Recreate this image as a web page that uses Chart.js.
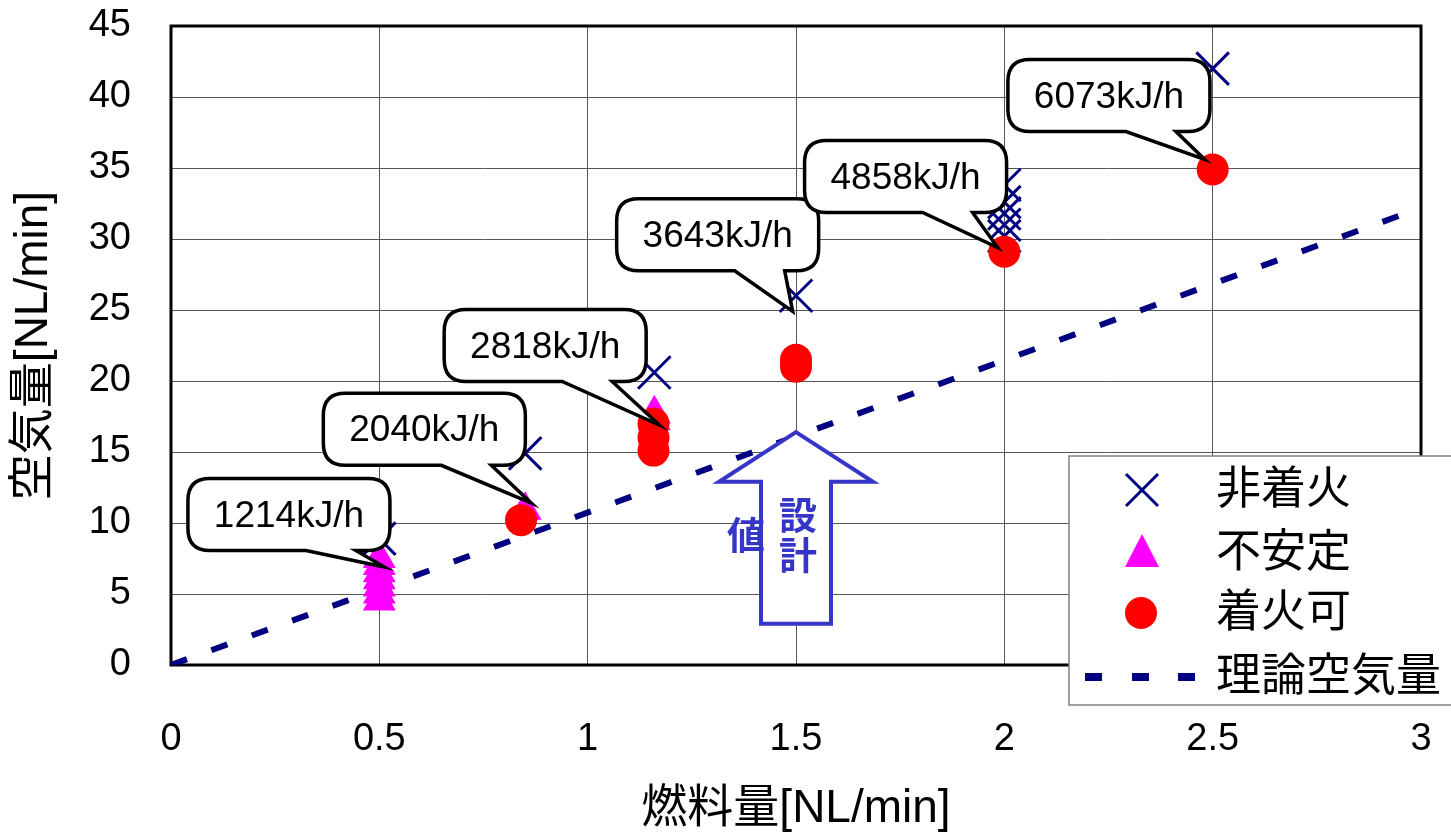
<!DOCTYPE html>
<html>
<head>
<meta charset="utf-8">
<script src="https://cdn.jsdelivr.net/npm/chart.js@4.4.1/dist/chart.umd.min.js"></script>
<style>
  body { margin: 0; background: #fff; }
  #wrap { width: 1451px; height: 837px; }
</style>
</head>
<body>
<div id="wrap"><canvas id="air_chart" width="1451" height="837"></canvas></div>
<script>
const FONT = "'Liberation Sans', 'Noto Sans CJK JP', sans-serif";

// axis ticks
const xTickValues = [0, 0.5, 1, 1.5, 2, 2.5, 3];
const yTickValues = [0, 5, 10, 15, 20, 25, 30, 35, 40, 45];

// 非着火
const noFireX = [0.5, 0.85, 1.16, 1.5, 2.0, 2.0, 2.0, 2.0, 2.0, 2.5];
const noFireY = [8.9, 14.9, 20.6, 26.0, 33.8, 32.6, 31.8, 31.0, 30.2, 42.0];
// 不安定
const unstableX = [0.5, 0.5, 0.5, 0.5, 0.5, 0.5, 0.5, 0.85, 1.16, 1.16];
const unstableY = [4.5, 5.0, 5.5, 6.0, 6.5, 7.0, 7.5, 10.9, 17.7, 17.2];
// 着火可
const fireX = [0.84, 1.158, 1.158, 1.158, 1.5, 1.5, 2.0, 2.5];
const fireY = [10.2, 17.0, 16.0, 15.1, 21.5, 21.0, 29.1, 34.9];
// 理論空気量
const theoryX = [0, 3];
const theoryY = [0, 32.2];

// callouts (heat input)
const heatLabels = ['1214kJ/h', '2040kJ/h', '2818kJ/h', '3643kJ/h', '4858kJ/h', '6073kJ/h'];
const heatTipX = [0.512, 0.865, 1.172, 1.492, 1.984, 2.481];
const heatTipY = [6.9, 11.4, 16.9, 24.9, 29.4, 35.6];
const heatBoxX = [0.283, 0.608, 0.898, 1.312, 1.763, 2.251];
const heatBoxY = [10.6, 16.6, 22.5, 30.3, 34.4, 40.1];

// design arrow (設計値)
const designX = 1.5;
const designTipY = 16.4;
const designHeadY = 12.9;
const designBottomY = 2.9;

const legendLabels = ['非着火', '不安定', '着火可', '理論空気量'];

const NAVY = '#000080';
const MAGENTA = '#FF00FF';
const RED = '#FF0000';
const ARROW_BLUE = '#3535C8';

function pts(xs, ys) {
    return xs.map((x, i) => ({x: x, y: ys[i]}));
}

function calloutPath(ctx, left, top, w, h, r, b1, b2, tx, ty) {
    const right = left + w, bottom = top + h;
    ctx.beginPath();
    ctx.moveTo(left + r, top);
    ctx.lineTo(right - r, top);
    ctx.quadraticCurveTo(right, top, right, top + r);
    ctx.lineTo(right, bottom - r);
    ctx.quadraticCurveTo(right, bottom, right - r, bottom);
    ctx.lineTo(b2, bottom);
    ctx.lineTo(tx, ty);
    ctx.lineTo(b1, bottom);
    ctx.lineTo(left + r, bottom);
    ctx.quadraticCurveTo(left, bottom, left, bottom - r);
    ctx.lineTo(left, top + r);
    ctx.quadraticCurveTo(left, top, left + r, top);
    ctx.closePath();
}

const overlay = {
    id: 'overlay',
    beforeDatasetsDraw(chart) {
        const {ctx, chartArea: a} = chart;
        ctx.save();
        ctx.strokeStyle = '#000';
        ctx.lineWidth = 3;
        ctx.strokeRect(a.left, a.top, a.right - a.left, a.bottom - a.top);
        ctx.restore();
    },
    afterDatasetsDraw(chart) {
        const {ctx} = chart;
        const xs = chart.scales.x, ys = chart.scales.y;
        ctx.save();

        // design arrow
        const ax = xs.getPixelForValue(designX);
        const aTip = ys.getPixelForValue(designTipY);
        const aHead = ys.getPixelForValue(designHeadY);
        const aBot = ys.getPixelForValue(designBottomY);
        ctx.beginPath();
        ctx.moveTo(ax, aTip);
        ctx.lineTo(ax + 77, aHead);
        ctx.lineTo(ax + 35, aHead);
        ctx.lineTo(ax + 35, aBot);
        ctx.lineTo(ax - 35, aBot);
        ctx.lineTo(ax - 35, aHead);
        ctx.lineTo(ax - 77, aHead);
        ctx.closePath();
        ctx.fillStyle = '#fff';
        ctx.fill();
        ctx.strokeStyle = ARROW_BLUE;
        ctx.lineWidth = 4;
        ctx.stroke();
        ctx.fillStyle = ARROW_BLUE;
        ctx.font = 'bold 38px ' + FONT;
        ctx.textAlign = 'center';
        ctx.textBaseline = 'middle';
        ctx.fillText('設', ax + 2, aTip + 86);
        ctx.fillText('計', ax + 2, aTip + 126);
        ctx.fillText('値', ax - 50, aTip + 106);

        // callouts
        ctx.font = '37px ' + FONT;
        heatLabels.forEach((t, i) => {
            const cx = xs.getPixelForValue(heatBoxX[i]);
            const cy = ys.getPixelForValue(heatBoxY[i]);
            const tx = xs.getPixelForValue(heatTipX[i]);
            const ty = ys.getPixelForValue(heatTipY[i]);
            const w = 202, h = 72;
            calloutPath(ctx, cx - w / 2, cy - h / 2, w, h, 22, cx + 17, cx + 67, tx, ty);
            ctx.fillStyle = '#fff';
            ctx.fill();
            ctx.strokeStyle = '#000';
            ctx.lineWidth = 3.5;
            ctx.lineJoin = 'miter';
            ctx.stroke();
            ctx.fillStyle = '#000';
            ctx.fillText(t, cx, cy + 2);
        });

        // legend
        const lx = 1069, ly = 456;
        ctx.fillStyle = '#fff';
        ctx.fillRect(lx, ly, 1451 - lx + 5, 249);
        ctx.strokeStyle = '#808080';
        ctx.lineWidth = 1.5;
        ctx.strokeRect(lx, ly, 1451 - lx + 5, 249);
        const mx = 1142;
        const rows = [490, 553, 613, 677];
        // X
        ctx.strokeStyle = NAVY;
        ctx.lineWidth = 3;
        ctx.beginPath();
        ctx.moveTo(mx - 16, rows[0] - 16); ctx.lineTo(mx + 16, rows[0] + 16);
        ctx.moveTo(mx + 16, rows[0] - 16); ctx.lineTo(mx - 16, rows[0] + 16);
        ctx.stroke();
        // triangle
        ctx.fillStyle = MAGENTA;
        ctx.beginPath();
        ctx.moveTo(mx, rows[1] - 19);
        ctx.lineTo(mx + 17, rows[1] + 14);
        ctx.lineTo(mx - 17, rows[1] + 14);
        ctx.closePath();
        ctx.fill();
        // circle
        ctx.fillStyle = RED;
        ctx.beginPath();
        ctx.arc(mx - 1, rows[2], 16, 0, Math.PI * 2);
        ctx.fill();
        // dashes
        ctx.fillStyle = NAVY;
        [1085, 1132, 1178].forEach(d => ctx.fillRect(d, rows[3] - 4, 17, 8));
        ctx.fillStyle = '#000';
        ctx.font = '45px ' + FONT;
        ctx.textAlign = 'left';
        legendLabels.forEach((t, i) => ctx.fillText(t, 1216, rows[i] + 2));

        ctx.restore();
    }
};

new Chart(document.getElementById('air_chart'), {
    type: 'scatter',
    data: {
        datasets: [
            {
                label: legendLabels[2],
                data: pts(fireX, fireY),
                pointStyle: 'circle',
                pointRadius: 16,
                backgroundColor: RED,
                borderColor: RED,
                borderWidth: 0,
                order: 0
            },
            {
                label: legendLabels[1],
                data: pts(unstableX, unstableY),
                pointStyle: 'triangle',
                pointRadius: 19,
                backgroundColor: MAGENTA,
                borderColor: MAGENTA,
                borderWidth: 0,
                order: 1
            },
            {
                label: legendLabels[0],
                data: pts(noFireX, noFireY),
                pointStyle: 'crossRot',
                pointRadius: 23,
                borderColor: NAVY,
                borderWidth: 3,
                order: 2
            },
            {
                label: legendLabels[3],
                data: pts(theoryX, theoryY),
                showLine: true,
                pointRadius: 0,
                borderColor: NAVY,
                borderWidth: 6,
                borderDash: [17, 26],
                order: 3
            }
        ]
    },
    options: {
        responsive: false,
        animation: false,
        layout: { padding: { top: 20, right: 30, left: 0, bottom: 0 } },
        plugins: {
            legend: { display: false },
            tooltip: { enabled: false }
        },
        scales: {
            x: {
                type: 'linear',
                min: 0,
                max: 3,
                afterBuildTicks: s => { s.ticks = xTickValues.map(v => ({value: v})); },
                afterFit: s => {
                    s.height = 172;
                    s.paddingLeft = 0;
                    s.paddingRight = 0;
                },
                grid: { color: '#555', lineWidth: 1, drawTicks: false },
                border: { display: false },
                ticks: {
                    color: '#000',
                    padding: 56,
                    font: { family: FONT, size: 38, lineHeight: 1 },
                    callback: v => String(v)
                },
                title: {
                    display: true,
                    text: '燃料量[NL/min]',
                    color: '#000',
                    font: { family: FONT, size: 46 },
                    padding: { top: 0, bottom: 0 }
                }
            },
            y: {
                type: 'linear',
                min: 0,
                max: 45,
                afterBuildTicks: s => { s.ticks = yTickValues.map(v => ({value: v})); },
                afterFit: s => {
                    s.width = 171;
                    s.paddingTop = 0;
                    s.paddingBottom = 0;
                },
                grid: { color: '#555', lineWidth: 1, drawTicks: false },
                border: { display: false },
                ticks: {
                    color: '#000',
                    padding: 40,
                    font: { family: FONT, size: 38, lineHeight: 1 },
                    callback: v => String(v)
                },
                title: {
                    display: true,
                    text: '空気量[NL/min]',
                    color: '#000',
                    font: { family: FONT, size: 46 },
                    padding: { top: 7, bottom: 0 }
                }
            }
        }
    },
    plugins: [overlay]
});
</script>
</body>
</html>
